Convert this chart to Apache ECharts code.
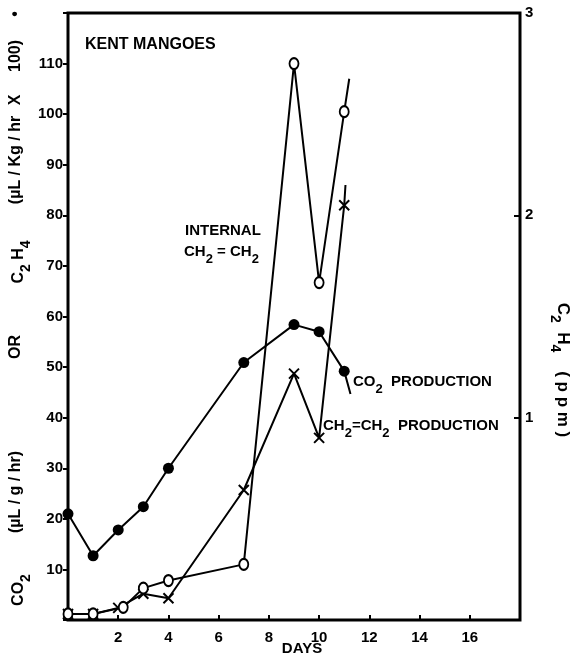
<!DOCTYPE html>
<html>
<head>
<meta charset="utf-8">
<script src="https://cdn.jsdelivr.net/npm/echarts@6/dist/echarts.min.js"></script>
<style>
html,body{margin:0;padding:0;background:#fff;}
#chart{width:580px;height:659px;}
</style>
</head>
<body>
<div id="chart"></div>
<script>
// ---- data ----
const days = [0, 1, 2, 3, 4, 7, 9, 10, 11];
const co2Production = [21, 12.7, 17.8, 22.4, 30, 50.9, 58.4, 57, 49.2];
const internalDays = [0, 1, 2.2, 3, 4, 7, 9, 10, 11];
const internalEthylene = [1.2, 1.2, 2.5, 6.3, 7.8, 11, 110, 66.7, 100.5];
const ethyleneProduction = [1.2, 1.2, 2.4, 5.2, 4.3, 25.7, 48.7, 36, 82];
// short line ends drawn past the last point
const co2Tail = [11.25, 44.7];
const internalTail = [11.2, 107];
const productionTail = [11.05, 86];
// axes
const xTicks = [2, 4, 6, 8, 10, 12, 14, 16];
const leftTicks = [10, 20, 30, 40, 50, 60, 70, 80, 90, 100, 110];
const rightTicks = [1, 2, 3];

const FONT = "'Liberation Sans','DejaVu Sans',sans-serif";

function pairs(xs, ys, tail) {
  const d = xs.map((x, i) => [x, ys[i]]);
  if (tail) d.push({ value: tail, symbol: 'none' });
  return d;
}

const chart = echarts.init(document.getElementById('chart'), null, { renderer: 'canvas' });

const lineStyle = { color: '#000', width: 2 };

// text with "_2" style subscripts drawn as lowered digits
function txt(text, x, y, opts) {
  opts = opts || {};
  const size = opts.size || 14;
  const subSize = Math.round(size * 0.85);
  const drop = Math.round(size * 0.95);
  return {
    type: 'text', x: x, y: y, rotation: opts.rotation || 0, z: 100,
    style: {
      text: text.replace(/_(\d)/g, '{s|$1}'), fill: '#000',
      font: 'bold ' + size + 'px ' + FONT,
      align: opts.align || 'center', verticalAlign: 'middle',
      rich: {
        s: { font: 'bold ' + subSize + 'px ' + FONT, fill: '#000', lineHeight: subSize, padding: [drop, 0, 0, 0] }
      }
    }
  };
}

const option = {
  backgroundColor: '#fff',
  animation: false,
  title: {
    text: 'KENT MANGOES', left: 85, top: 37, padding: 0,
    textStyle: { fontFamily: FONT, fontWeight: 'bold', fontSize: 16, color: '#000' }
  },
  grid: { left: 68, right: 60, top: 13, bottom: 39, show: true, borderColor: '#000', borderWidth: 3, containLabel: false },
  xAxis: {
    type: 'value', min: 0, max: 18, interval: 2,
    axisLine: { show: false },
    axisTick: { show: true, inside: true, length: 5, lineStyle: { color: '#000', width: 2 } },
    splitLine: { show: false },
    axisLabel: {
      margin: 10, color: '#000', fontFamily: FONT, fontWeight: 'bold', fontSize: 15,
      formatter: v => xTicks.includes(v) ? String(v) : ''
    }
  },
  yAxis: [
    {
      type: 'value', min: 0, max: 120, interval: 10, position: 'left',
      axisLine: { show: false },
      axisTick: { show: true, inside: false, length: 5, lineStyle: { color: '#000', width: 2 } },
      splitLine: { show: false },
      axisLabel: {
        margin: 5, color: '#000', fontFamily: FONT, fontWeight: 'bold', fontSize: 15,
        formatter: v => leftTicks.includes(v) ? String(v) : ''
      }
    },
    {
      type: 'value', min: 0, max: 3, interval: 1, position: 'right',
      axisLine: { show: false },
      axisTick: { show: true, inside: true, length: 6, lineStyle: { color: '#000', width: 2 } },
      splitLine: { show: false },
      axisLabel: {
        margin: 5, color: '#000', fontFamily: FONT, fontWeight: 'bold', fontSize: 15,
        formatter: v => rightTicks.includes(v) ? String(v) : ''
      }
    }
  ],
  series: [
    {
      name: 'CO2 production', type: 'line', yAxisIndex: 0,
      data: pairs(days, co2Production, co2Tail),
      symbol: 'circle', symbolSize: 11,
      itemStyle: { color: '#000' }, lineStyle: lineStyle, z: 3
    },
    {
      name: 'CH2=CH2 production', type: 'line', yAxisIndex: 0,
      data: pairs(days, ethyleneProduction, productionTail),
      symbol: 'path://M0,0L10,10M10,0L0,10', symbolSize: 10,
      itemStyle: { color: 'rgba(0,0,0,0)', borderColor: '#000', borderWidth: 2 },
      lineStyle: lineStyle, z: 4
    },
    {
      name: 'Internal CH2=CH2', type: 'line', yAxisIndex: 0,
      data: pairs(internalDays, internalEthylene, internalTail),
      symbol: 'circle', symbolSize: [9, 11],
      itemStyle: { color: '#fff', borderColor: '#000', borderWidth: 2 },
      lineStyle: lineStyle, z: 5
    }
  ],
  graphic: [
    txt('INTERNAL', 185, 231, { size: 15, align: 'left' }),
    txt('CH_2 = CH_2', 184, 252, { size: 15, align: 'left' }),
    txt('CO_2  PRODUCTION', 353, 382, { size: 15, align: 'left' }),
    txt('CH_2=CH_2  PRODUCTION', 323, 426, { size: 15, align: 'left' }),
    txt('DAYS', 302, 649, { size: 15 }),
    // left axis title (reads bottom to top)
    txt('CO_2', 19, 590, { size: 16, rotation: Math.PI / 2 }),
    txt('(µL / g / hr)', 16, 492, { size: 16, rotation: Math.PI / 2 }),
    txt('OR', 16, 347, { size: 16, rotation: Math.PI / 2 }),
    txt('C_2 H_4', 19, 262, { size: 16, rotation: Math.PI / 2 }),
    txt('(µL / Kg / hr', 16, 160, { size: 16, rotation: Math.PI / 2 }),
    txt('X', 16, 100, { size: 16, rotation: Math.PI / 2 }),
    txt('100)', 16, 56, { size: 16, rotation: Math.PI / 2 }),
    txt('•', 16, 14, { size: 16, rotation: Math.PI / 2 }),
    // right axis title (reads top to bottom)
    txt('C_2  H_4    ( p p m )', 563, 370, { size: 17, rotation: -Math.PI / 2 })
  ]
};

chart.setOption(option);
</script>
</body>
</html>
